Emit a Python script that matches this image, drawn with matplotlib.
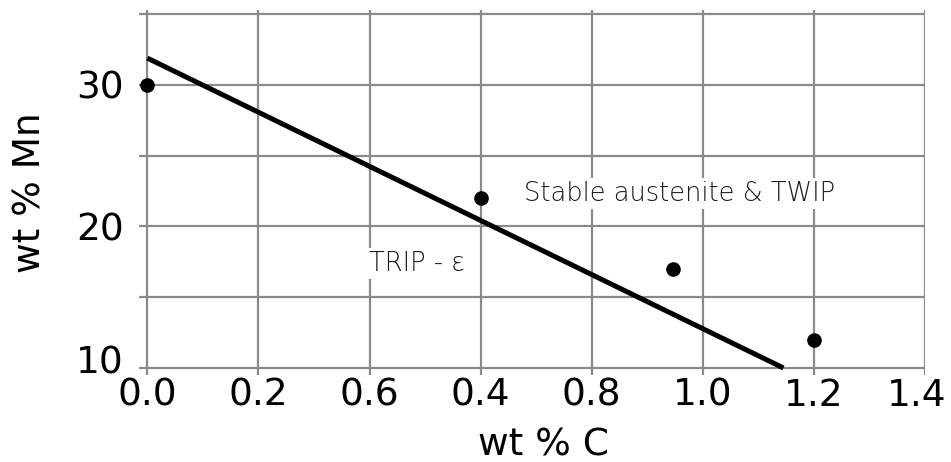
import matplotlib
matplotlib.use("Agg")
import matplotlib.pyplot as plt
from matplotlib.transforms import ScaledTranslation

# tick positions on the axis and the labels as printed in the source
x_ticks = [0.0, 0.2, 0.4, 0.6, 0.8, 1.0, 1.2, 1.4]
x_tick_labels = ["0.0", "0.2", "0.6", "0.4", "0.8", "1.0", "1.2", "1.4"]
y_ticks = [10, 20, 30]
y_grid = [10, 15, 20, 25, 30, 35]

# measured points (x in axis position)
pts_x = [0.0, 0.6, 0.946, 1.2]
pts_y = [30.0, 22.0, 17.0, 12.0]

# boundary line
line_x = [0.0, 1.145]
line_y = [31.9, 10.0]

fig = plt.figure(figsize=(9.51, 4.62), dpi=100)
ax = fig.add_axes([139/951, 1 - 375/462, (925-139)/951, (375-10)/462])

ax.set_xlim(-0.015, 1.4)
ax.set_ylim(9.5, 35.3)

for x in x_ticks:
    ax.axvline(x, color="#8a8a8a", lw=1.6, zorder=0)
for y in y_grid:
    ax.axhline(y, color="#8a8a8a", lw=1.6, zorder=0)

ax.plot(line_x, line_y, color="black", lw=3.6, solid_capstyle="butt", zorder=3)
ax.plot(pts_x, pts_y, "o", color="black", ms=9.5, zorder=4)

ax.text(0.958, 22.35, "Stable austenite & TWIP", fontsize=18.5, fontweight="light",
        color="#1a1a1a", ha="center", va="center", zorder=2,
        bbox=dict(facecolor="white", edgecolor="none", pad=2))
ax.text(0.486, 17.4, "TRIP - ε", fontsize=18.5, fontweight="light",
        color="#1a1a1a", ha="center", va="center", zorder=2,
        bbox=dict(facecolor="white", edgecolor="none", pad=2))

ax.set_xticks(x_ticks)
ax.set_xticklabels(x_tick_labels)
ax.set_yticks(y_ticks)
ax.tick_params(axis="x", length=0, labelsize=27, pad=2)
ax.tick_params(axis="y", length=0, labelsize=27, pad=11)
for sp in ax.spines.values():
    sp.set_visible(False)

# small nudges seen in the source
lbls = ax.get_xticklabels()
lbls[-1].set_transform(lbls[-1].get_transform() + ScaledTranslation(-8/100, 0, fig.dpi_scale_trans))
ylbls = ax.get_yticklabels()
for t in ylbls:
    t.set_verticalalignment("center_baseline")
ylbls[0].set_transform(ylbls[0].get_transform() + ScaledTranslation(0, 8/100, fig.dpi_scale_trans))

ax.set_xlabel("wt % C", fontsize=27)
ax.xaxis.set_label_coords(0.515, -0.145)
ax.xaxis.label.set_verticalalignment("top")
ax.set_ylabel("wt % Mn", fontsize=27, labelpad=20)

fig.savefig("out.png", dpi=100)
